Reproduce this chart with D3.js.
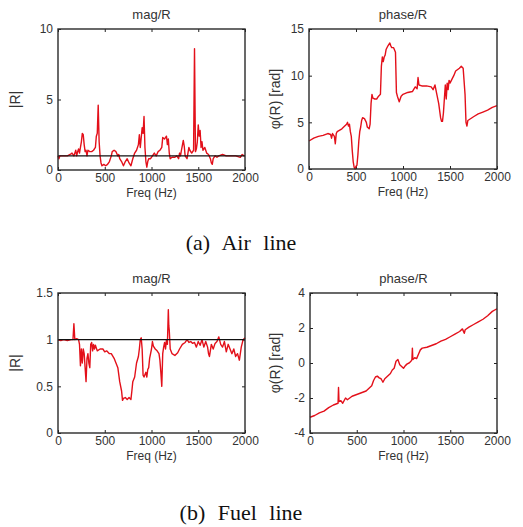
<!DOCTYPE html>
<meta charset="utf-8">
<script src="https://d3js.org/d3.v7.min.js"></script>
<style>
  body { margin: 0; background: #fff; }
  text { font-family: "Liberation Sans", Arial, sans-serif; fill: #222; }
  .cap { font-family: "Liberation Serif", "Times New Roman", serif; font-size: 22px; fill: #111; }
</style>
<div id="my_dataviz"></div>
<script>

// frequency axis ticks (Hz)
var freqTicks = [0, 500, 1000, 1500, 2000];

// (a) Air line, |R| vs freq
var airMag = [
  [0,1.0],[10,0.8],[20,1.0],[50,1.0],[100,1.0],[130,1.1],[150,1.2],[170,1.0],[190,1.4],[200,1.0],
  [210,1.3],[220,1.5],[230,1.2],[240,1.6],[250,2.0],[260,2.6],[270,2.5],[280,1.8],[290,1.3],[300,1.4],
  [310,1.0],[320,1.4],[340,1.3],[360,1.3],[380,1.4],[400,1.6],[410,2.4],[420,2.6],[430,4.6],[440,2.0],
  [450,1.0],[460,0.5],[470,0.3],[490,0.4],[510,0.3],[530,0.4],[550,0.6],[570,1.0],[580,1.3],[600,1.4],
  [620,1.3],[640,1.0],[650,1.1],[660,0.8],[680,0.6],[700,0.3],[720,0.6],[740,0.8],[760,0.5],[780,0.3],
  [800,0.8],[820,1.2],[840,1.4],[860,1.8],[870,2.5],[880,1.6],[890,2.3],[900,3.0],[910,2.6],[920,3.8],
  [930,1.6],[940,0.6],[950,0.2],[960,0.6],[970,0.8],[990,0.8],[1010,1.0],[1030,1.2],[1050,1.0],[1070,1.3],
  [1090,1.4],[1110,1.6],[1120,2.3],[1140,2.2],[1160,2.4],[1170,1.8],[1180,2.2],[1190,1.2],[1200,0.8],[1220,0.9],
  [1250,0.9],[1270,1.0],[1290,0.8],[1300,1.2],[1310,1.0],[1320,1.4],[1340,2.1],[1350,1.7],[1360,1.0],[1380,0.8],
  [1400,1.6],[1410,1.4],[1430,1.2],[1450,1.4],[1460,8.6],[1470,1.3],[1480,1.5],[1490,2.0],[1500,3.2],[1510,2.4],
  [1520,2.8],[1530,1.6],[1540,2.0],[1550,1.4],[1570,1.6],[1590,1.2],[1610,1.1],[1630,0.8],[1640,0.5],[1650,0.4],
  [1660,0.8],[1680,1.0],[1700,0.9],[1720,1.0],[1760,1.1],[1800,1.0],[1850,1.0],[1900,1.0],[1950,0.9],[1970,1.1],
  [1990,1.0],[2000,1.0]
];

// (a) Air line, phase vs freq
var airPhase = [
  [0,3.0],[50,3.3],[100,3.5],[150,3.6],[200,3.8],[230,3.7],[240,3.3],[250,3.8],[270,3.5],[280,2.7],
  [290,3.8],[300,4.0],[350,4.3],[380,4.6],[400,4.8],[410,5.0],[420,4.6],[430,4.8],[440,4.0],[450,3.5],
  [460,2.0],[470,0.8],[480,0.2],[490,0.0],[500,0.3],[510,0.4],[520,1.5],[530,3.0],[540,4.0],[550,4.5],
  [560,5.2],[570,5.5],[590,5.4],[610,5.0],[620,4.5],[640,4.3],[650,4.8],[660,7.0],[670,8.0],[680,7.6],
  [700,7.5],[720,7.5],[740,7.8],[760,8.0],[770,11.0],[780,12.0],[790,11.5],[800,12.0],[810,12.2],[820,12.8],
  [840,13.2],[860,13.5],[870,13.2],[880,13.0],[900,13.0],[920,12.5],[930,8.2],[940,7.8],[950,7.5],[960,7.2],
  [980,7.8],[1000,8.0],[1050,8.2],[1100,8.3],[1130,8.8],[1150,8.6],[1160,9.8],[1170,9.0],[1200,8.9],[1250,8.9],
  [1300,8.8],[1320,8.5],[1340,9.0],[1360,8.0],[1380,7.0],[1400,5.5],[1410,5.1],[1420,5.1],[1430,6.0],[1440,7.5],
  [1450,9.0],[1460,7.5],[1470,9.2],[1480,8.5],[1490,9.5],[1500,9.2],[1520,9.6],[1540,10.0],[1560,10.5],[1600,10.8],
  [1620,11.0],[1640,10.8],[1660,8.0],[1670,5.0],[1680,4.6],[1690,5.2],[1750,5.6],[1800,5.9],[1850,6.1],[1900,6.3],
  [1950,6.6],[2000,6.8]
];

// (b) Fuel line, |R| vs freq
var fuelMag = [
  [0,1.0],[30,0.99],[60,1.0],[100,0.99],[140,1.0],[160,1.0],[170,1.17],[180,1.0],[200,1.01],[220,1.0],
  [230,0.95],[240,0.72],[250,0.9],[260,0.75],[270,0.9],[280,0.85],[290,0.7],[300,0.55],[310,0.8],[320,0.85],
  [330,0.75],[340,0.7],[350,0.95],[360,0.97],[370,0.88],[380,0.95],[390,0.9],[400,0.94],[420,0.88],[450,0.9],
  [480,0.9],[500,0.87],[520,0.88],[550,0.85],[570,0.85],[600,0.8],[620,0.75],[640,0.7],[660,0.55],[680,0.45],
  [690,0.35],[700,0.37],[720,0.38],[740,0.36],[760,0.38],[780,0.36],[790,0.45],[800,0.55],[820,0.6],[840,0.75],
  [860,0.82],[870,0.9],[880,1.0],[890,1.02],[900,0.9],[910,0.62],[920,0.6],[940,0.65],[950,0.6],[960,0.68],
  [970,0.7],[980,0.8],[1000,0.9],[1010,0.98],[1020,0.93],[1040,0.9],[1060,0.88],[1080,0.85],[1090,0.78],[1100,0.65],
  [1110,0.5],[1120,0.85],[1130,0.92],[1140,0.97],[1150,0.9],[1160,1.0],[1170,0.95],[1180,1.32],[1185,1.15],[1190,1.1],
  [1200,0.9],[1220,0.85],[1250,0.83],[1280,0.86],[1300,0.9],[1330,0.95],[1360,0.97],[1380,1.0],[1400,0.97],[1420,0.98],
  [1440,0.96],[1460,0.97],[1480,0.92],[1500,0.98],[1520,0.94],[1540,1.0],[1560,0.92],[1580,0.98],[1600,0.92],[1610,0.85],
  [1620,0.82],[1640,0.95],[1660,0.9],[1680,0.96],[1700,0.98],[1720,1.03],[1740,0.95],[1760,0.92],[1780,0.98],[1800,0.87],
  [1820,0.95],[1840,0.9],[1860,0.85],[1880,0.9],[1900,0.82],[1920,0.85],[1940,0.78],[1960,0.92],[1980,1.0],[2000,1.02]
];

// (b) Fuel line, phase vs freq
var fuelPhase = [
  [0,-3.1],[50,-3.0],[100,-2.85],[150,-2.75],[200,-2.55],[250,-2.4],[300,-2.3],[305,-1.4],[310,-2.2],[330,-2.15],
  [350,-2.3],[380,-2.0],[400,-2.1],[450,-1.9],[500,-1.8],[550,-1.7],[600,-1.6],[640,-1.4],[660,-1.3],[680,-1.0],
  [700,-0.8],[720,-0.75],[740,-0.85],[760,-0.9],[780,-1.1],[800,-0.9],[820,-0.8],[840,-0.7],[860,-0.6],[880,-0.4],
  [900,-0.3],[920,0.1],[940,0.2],[960,-0.1],[980,-0.2],[1000,-0.3],[1020,-0.15],[1040,-0.05],[1060,0.0],[1080,0.1],
  [1090,0.2],[1095,0.85],[1100,0.2],[1120,0.3],[1140,0.25],[1160,0.5],[1180,0.75],[1200,0.85],[1250,0.9],[1300,1.0],
  [1350,1.1],[1400,1.25],[1450,1.35],[1500,1.5],[1550,1.65],[1600,1.8],[1630,1.95],[1650,1.7],[1660,1.9],[1700,2.05],
  [1750,2.2],[1800,2.35],[1850,2.5],[1900,2.7],[1950,2.95],[2000,3.1]
];

var panels = [
  {title: "mag/R", ylabel: "|R|", data: airMag, yDomain: [0, 10], yTicks: [0, 5, 10], ref: 1,
   left: 58, top: 29, width: 187, height: 141, ylabX: -43},
  {title: "phase/R", ylabel: "\u03c6(R) [rad]", data: airPhase, yDomain: [0, 15], yTicks: [0, 5, 10, 15], ref: null,
   left: 309, top: 29, width: 188, height: 140, ylabX: -34},
  {title: "mag/R", ylabel: "|R|", data: fuelMag, yDomain: [0, 1.5], yTicks: [0, 0.5, 1, 1.5], ref: 1,
   left: 58, top: 293, width: 187, height: 140, ylabX: -43},
  {title: "phase/R", ylabel: "\u03c6(R) [rad]", data: fuelPhase, yDomain: [-4, 4], yTicks: [-4, -2, 0, 2, 4], ref: null,
   left: 310, top: 293, width: 187, height: 140, ylabX: -35}
];

var svg = d3.select("#my_dataviz")
  .append("svg")
    .attr("width", 523)
    .attr("height", 527);

panels.forEach(function(p) {
  var g = svg.append("g")
    .attr("transform", "translate(" + p.left + "," + p.top + ")");

  var x = d3.scaleLinear().domain([0, 2000]).range([0, p.width]);
  var y = d3.scaleLinear().domain(p.yDomain).range([p.height, 0]);

  // bottom / left axes with ticks pointing inside
  g.append("g")
    .attr("transform", "translate(0," + p.height + ")")
    .call(d3.axisBottom(x).tickValues(freqTicks).tickSize(-3).tickPadding(3).tickFormat(d3.format("d")))
    .call(styleAxis);
  g.append("g")
    .call(d3.axisLeft(y).tickValues(p.yTicks).tickSize(-3).tickPadding(5).tickFormat(function(d) { return String(d); }))
    .call(styleAxis);
  // top / right ticks without labels
  g.append("g")
    .call(d3.axisTop(x).tickValues(freqTicks).tickSize(-3).tickFormat(""))
    .call(styleAxis);
  g.append("g")
    .attr("transform", "translate(" + p.width + ",0)")
    .call(d3.axisRight(y).tickValues(p.yTicks).tickSize(-3).tickFormat(""))
    .call(styleAxis);

  var line = d3.line()
    .x(function(d) { return x(d[0]); })
    .y(function(d) { return y(d[1]); });

  g.append("path")
    .datum(p.data)
    .attr("fill", "none")
    .attr("stroke", "#e3101a")
    .attr("stroke-width", 1.4)
    .attr("stroke-linejoin", "round")
    .attr("d", line);

  if (p.ref !== null) {
    g.append("line")
      .attr("x1", x(0)).attr("x2", x(2000))
      .attr("y1", y(p.ref)).attr("y2", y(p.ref))
      .attr("stroke", "#111")
      .attr("stroke-width", 1.3);
  }

  // box
  g.append("rect")
    .attr("width", p.width).attr("height", p.height)
    .attr("fill", "none").attr("stroke", "#2a2a2a").attr("stroke-width", 1.4);

  g.append("text")
    .attr("x", p.width / 2).attr("y", -10)
    .attr("text-anchor", "middle")
    .style("font-size", "13px")
    .style("fill", "#333")
    .text(p.title);

  g.append("text")
    .attr("x", p.width / 2).attr("y", p.height + 27)
    .attr("text-anchor", "middle")
    .style("font-size", "12px")
    .style("fill", "#333")
    .text("Freq (Hz)");

  g.append("text")
    .attr("transform", "translate(" + p.ylabX + "," + (p.height / 2) + ") rotate(-90)")
    .attr("text-anchor", "middle")
    .attr("dy", "0.35em")
    .style("font-size", "14px")
    .style("fill", "#333")
    .text(p.ylabel);
});

function styleAxis(sel) {
  sel.select(".domain").remove();
  sel.selectAll("line").attr("stroke", "#222");
  sel.selectAll("text").style("font-size", "12px").style("fill", "#333")
    .style("font-family", "'Liberation Sans', Arial, sans-serif");
}

svg.append("text").attr("class", "cap")
  .attr("x", 241).attr("y", 250).attr("text-anchor", "middle")
  .style("word-spacing", "7px")
  .text("(a) Air line");

svg.append("text").attr("class", "cap")
  .attr("x", 241).attr("y", 520).attr("text-anchor", "middle")
  .style("word-spacing", "7px")
  .text("(b) Fuel line");

</script>
